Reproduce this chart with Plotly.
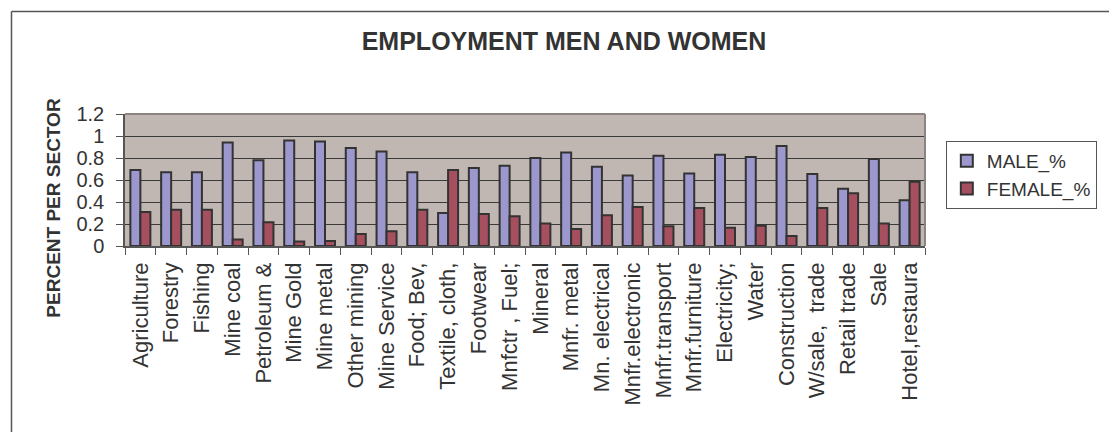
import plotly.graph_objects as go

categories = ["Agriculture", "Forestry", "Fishing", "Mine coal", "Petroleum &", "Mine Gold",
              "Mine metal", "Other mining", "Mine Service", "Food; Bev,", "Textile, cloth,",
              "Footwear", "Mnfctr , Fuel;", "Mineral", "Mnfr. metal", "Mn. electrical",
              "Mnfr.electronic", "Mnfr.transport", "Mnfr.furniture", "Electricity;", "Water",
              "Construction", "W/sale,  trade", "Retail trade", "Sale", "Hotel,restaura"]
male = [0.69, 0.67, 0.67, 0.94, 0.78, 0.96, 0.95, 0.89, 0.86, 0.67, 0.30, 0.71, 0.73,
        0.80, 0.85, 0.72, 0.64, 0.82, 0.66, 0.83, 0.81, 0.91, 0.655, 0.52, 0.79, 0.415]
female = [0.31, 0.33, 0.33, 0.06, 0.215, 0.04, 0.045, 0.11, 0.135, 0.33, 0.69, 0.29, 0.27,
          0.205, 0.155, 0.28, 0.355, 0.18, 0.345, 0.165, 0.185, 0.09, 0.345, 0.48, 0.205, 0.585]
y_ticks = [0, 0.2, 0.4, 0.6, 0.8, 1.0, 1.2]
y_tick_labels = ["0", "0.2", "0.4", "0.6", "0.8", "1", "1.2"]

FONT = "Liberation Sans, Arial, sans-serif"
TXT = "#333333"

fig = go.Figure()
fig.add_trace(go.Bar(x=categories, y=male, name="MALE_%",
                     marker=dict(color="#9C97CC", line=dict(color="#333333", width=2))))
fig.add_trace(go.Bar(x=categories, y=female, name="FEMALE_%",
                     marker=dict(color="#A6505F", line=dict(color="#333333", width=2))))

W, H = 1109, 432
L, R, T, B = 125, 177, 114, 186
pw, ph = W - L - R, H - T - B

def px_x(x):
    return (x - L) / pw

def px_y(y):
    return (H - B - y) / ph

fig.update_layout(
    width=W, height=H,
    margin=dict(l=L, r=R, t=T, b=B, pad=0),
    paper_bgcolor="white",
    plot_bgcolor="#C0B7B3",
    barmode="group",
    bargap=0.35,
    bargroupgap=0,
    font=dict(family=FONT, color=TXT),
    title=dict(text="<b>EMPLOYMENT MEN AND WOMEN</b>", xref="container", x=564 / W,
               xanchor="center", yref="container", y=1 - 41 / H, yanchor="middle",
               font=dict(size=25, color=TXT, family=FONT)),
    legend=dict(x=px_x(953), y=px_y(141), xanchor="left", yanchor="top",
                bordercolor="#555555", borderwidth=1, bgcolor="white",
                font=dict(size=19, color=TXT, family=FONT),
                itemwidth=30, tracegroupgap=0),
    showlegend=True,
)
fig.update_xaxes(
    type="category", tickangle=-90, tickfont=dict(size=22, color=TXT, family=FONT),
    ticks="outside", tickson="boundaries", ticklen=7, tickcolor="#555555",
    ticklabelstandoff=6,
    showline=True, linecolor="#555555", linewidth=1.5, mirror=False, showgrid=False,
)
fig.update_yaxes(
    range=[0, 1.2], tickvals=y_ticks, ticktext=y_tick_labels,
    tickfont=dict(size=20, color=TXT, family=FONT),
    ticks="outside", ticklen=7, tickcolor="#555555", ticklabelstandoff=8,
    showline=True, linecolor="#555555", linewidth=1.5,
    showgrid=True, gridcolor="#3A3A3A", gridwidth=1, zeroline=False,
)
# plot-area top/right border
fig.add_shape(type="line", xref="paper", yref="paper", x0=0, x1=1, y0=1, y1=1,
              line=dict(color="#8C8480", width=2))
fig.add_shape(type="line", xref="paper", yref="paper", x0=1, x1=1, y0=0, y1=1,
              line=dict(color="#8C8480", width=2))
# outer chart frame (left and top visible)
fig.add_shape(type="line", xref="paper", yref="paper", x0=px_x(10.5), x1=px_x(1200),
              y0=px_y(11.5), y1=px_y(11.5), line=dict(color="#555555", width=1.5))
fig.add_shape(type="line", xref="paper", yref="paper", x0=px_x(10.5), x1=px_x(10.5),
              y0=px_y(11.5), y1=px_y(500), line=dict(color="#555555", width=1.5))
# y-axis title
fig.add_annotation(text="<b>PERCENT PER SECTOR</b>", xref="paper", yref="paper",
                   x=px_x(52), y=px_y(208), xanchor="center", yanchor="middle",
                   textangle=-90, showarrow=False,
                   font=dict(size=19, color=TXT, family=FONT))

fig.write_html("out.html")
